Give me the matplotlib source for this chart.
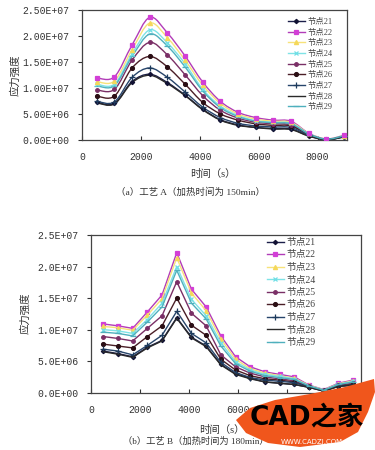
import numpy as np
import matplotlib
matplotlib.use("Agg")
import matplotlib.pyplot as plt
from matplotlib.path import Path
from matplotlib.patches import PathPatch, Polygon
from matplotlib.lines import Line2D
from matplotlib.ticker import FuncFormatter

# ---------------- data ----------------
labels = ["节点21", "节点22", "节点23", "节点24", "节点25", "节点26", "节点27", "节点28", "节点29"]

time_a = [500, 1100, 1700, 2300, 2900, 3500, 4100, 4700, 5300, 5900, 6500, 7100, 7700, 8300, 8900]
# values in 1e6 (Pa)
a21 = [7.2, 7.0, 11.2, 12.6, 11.0, 8.6, 5.9, 3.9, 2.9, 2.4, 2.2, 2.1, 0.8, 0.05, 0.6]
a22 = [11.9, 12.1, 18.2, 23.5, 20.5, 16.1, 11.1, 7.4, 5.3, 4.3, 3.8, 3.6, 1.3, 0.2, 0.9]
a23 = [11.2, 11.3, 17.3, 22.4, 19.6, 15.3, 10.5, 7.0, 5.0, 4.0, 3.6, 3.4, 1.25, 0.18, 0.85]
a24 = [10.7, 10.7, 16.5, 21.1, 18.6, 14.6, 9.7, 6.5, 4.7, 3.7, 3.4, 3.2, 1.2, 0.15, 0.8]
a25 = [9.6, 9.7, 15.3, 18.7, 16.3, 12.5, 8.5, 5.7, 4.2, 3.4, 3.1, 2.9, 1.1, 0.12, 0.75]
a26 = [8.4, 8.4, 13.8, 16.0, 14.0, 10.7, 7.2, 5.0, 3.8, 3.1, 2.8, 2.7, 1.0, 0.1, 0.7]
a27 = [7.4, 7.3, 12.0, 13.8, 12.0, 9.2, 6.3, 4.3, 3.2, 2.7, 2.5, 2.4, 0.9, 0.08, 0.65]
a28 = [7.1, 6.9, 11.0, 12.4, 10.8, 8.5, 5.8, 3.8, 2.8, 2.4, 2.1, 2.0, 0.75, 0.05, 0.6]
a29 = [10.4, 10.4, 16.0, 20.3, 18.0, 14.0, 9.4, 6.2, 4.5, 3.6, 3.3, 3.1, 1.15, 0.15, 0.8]

time_b = [500, 1100, 1700, 2300, 2900, 3500, 4100, 4700, 5300, 5900, 6500, 7100, 7700, 8300, 8900, 9500, 10100, 10700]
b21 = [6.6, 6.2, 5.7, 7.2, 8.3, 11.9, 8.8, 7.4, 4.5, 3.0, 2.3, 1.7, 1.5, 1.3, 0.85, 0.25, 1.0, 1.2]
b22 = [10.9, 10.6, 10.2, 12.8, 15.5, 22.2, 16.4, 13.6, 9.0, 5.7, 4.1, 3.3, 2.9, 2.5, 1.2, 0.5, 1.5, 2.0]
b23 = [10.5, 10.3, 9.9, 12.3, 14.9, 21.4, 15.8, 13.0, 8.5, 5.3, 3.8, 3.1, 2.7, 2.3, 1.15, 0.45, 1.4, 1.9]
b24 = [10.0, 9.8, 9.4, 11.6, 14.2, 20.0, 14.8, 12.2, 7.9, 4.9, 3.6, 2.9, 2.6, 2.2, 1.1, 0.4, 1.35, 1.8]
b25 = [8.9, 8.6, 8.2, 10.2, 12.2, 17.6, 12.6, 10.6, 6.0, 4.1, 3.1, 2.5, 2.2, 1.9, 1.0, 0.35, 1.2, 1.5]
b26 = [7.7, 7.4, 7.1, 8.9, 10.6, 15.0, 10.7, 9.1, 5.3, 3.6, 2.7, 2.2, 2.0, 1.7, 0.95, 0.3, 1.1, 1.3]
b27 = [6.9, 6.6, 6.0, 7.5, 9.1, 12.9, 9.4, 7.9, 4.8, 3.2, 2.4, 2.0, 1.8, 1.6, 0.9, 0.3, 1.1, 1.2]
b28 = [6.5, 6.1, 5.6, 7.1, 8.2, 11.8, 8.7, 7.3, 4.4, 2.9, 2.2, 1.7, 1.5, 1.3, 0.85, 0.25, 1.0, 1.2]
b29 = [9.6, 9.4, 9.0, 11.2, 13.6, 19.4, 14.2, 11.7, 7.4, 4.6, 3.4, 2.7, 2.4, 2.1, 1.05, 0.4, 1.3, 1.7]

xticks_a = [0, 2000, 4000, 6000, 8000]
xticklabels_a = ["0", "2000", "4000", "6000", "8000"]
xticks_b = [0, 2000, 4000, 6000, 8000, 10000]
xticklabels_b = ["0", "2000", "4000", "6000", "", ""]   # 8000 / 10000 hidden under the watermark

series_a = [a21, a22, a23, a24, a25, a26, a27, a28, a29]
series_b = [b21, b22, b23, b24, b25, b26, b27, b28, b29]
scale = 1e6

# ---------------- styles ----------------
colors = ["#1c1f4a", "#b23cb8", "#f7e27a", "#7fe3e6", "#7a2f66", "#4a1e26", "#27456b", "#2a2a2a", "#4fb0bd"]
mcolors = ["#111133", "#d23fd6", "#f5d85a", "#6fdfe6", "#7a2f66", "#2a0e14", "#1d3a5c", "#2a2a2a", "#4fb0bd"]
markers = ["D", "s", "^", "x", "o", "o", "+", "None", "_"]
msizes = [2.2, 3.2, 3.0, 3.0, 2.6, 2.8, 4.0, 0, 4.0]

SERIF = "Liberation Serif"
MONO = "Liberation Mono"
CJK = "Noto Sans CJK SC"
mixed = [SERIF, CJK]

fig = plt.figure(figsize=(3.75, 4.5), dpi=100)
fig.patch.set_facecolor("white")
W, H = 375.0, 450.0


def smooth_path(xs, ys):
    xs = np.asarray(xs, float)
    ys = np.asarray(ys, float)
    pts = np.column_stack([xs, ys])
    n = len(pts)
    verts = [pts[0]]
    codes = [Path.MOVETO]
    for i in range(n - 1):
        p0 = pts[i - 1] if i > 0 else pts[i]
        p1 = pts[i]
        p2 = pts[i + 1]
        p3 = pts[i + 2] if i + 2 < n else pts[i + 1]
        c1 = p1 + (p2 - p0) / 6.0
        c2 = p2 - (p3 - p1) / 6.0
        verts += [c1, c2, p2]
        codes += [Path.CURVE4] * 3
    return Path(verts, codes)


def style_axes(ax, xmax, xticks, xticklabels, yfmt):
    ax.set_xlim(0, xmax)
    ax.set_ylim(0, 2.5e7)
    ax.set_xticks(xticks)
    ax.set_xticklabels(xticklabels)
    ax.set_yticks(np.arange(0, 2.51e7, 0.5e7))
    ax.yaxis.set_major_formatter(FuncFormatter(yfmt))
    ax.tick_params(axis="x", direction="in", length=3, width=0.8, labelsize=7, pad=9, colors="#333333")
    ax.tick_params(axis="y", direction="out", length=3, width=0.8, labelsize=7, pad=6, colors="#333333")
    for lab in ax.get_xticklabels() + ax.get_yticklabels():
        lab.set_fontfamily(MONO)
    for sp in ax.spines.values():
        sp.set_color("#444444")
        sp.set_linewidth(0.9)


def fmt_a(v, p):
    if v <= 0:
        return "0.00E+00"
    if v >= 1e7:
        return "%.2fE+07" % (v / 1e7)
    return "%.2fE+06" % (v / 1e6)


def fmt_b(v, p):
    if v <= 0:
        return "0.0E+00"
    if v >= 1e7:
        return "%.1fE+07" % (v / 1e7)
    return "%.1fE+06" % (v / 1e6)


order = [7, 0, 6, 5, 4, 8, 3, 2, 1]

# ---------------- chart A (smoothed) ----------------
axA = fig.add_axes([82 / W, 1 - 140 / H, 265 / W, 130.5 / H])
for i in order:
    ys = np.asarray(series_a[i]) * scale
    axA.add_patch(PathPatch(smooth_path(time_a, ys), fill=False, edgecolor=colors[i], lw=1.0, zorder=2 + i * 0.01))
    if markers[i] != "None":
        axA.plot(time_a, ys, linestyle="none", marker=markers[i], ms=msizes[i],
                 color=mcolors[i], mec=mcolors[i], mew=0.9, zorder=3)
style_axes(axA, 9000, xticks_a, xticklabels_a, fmt_a)

handles = [Line2D([], [], color=colors[i], lw=1.0, marker=markers[i], ms=msizes[i],
                  mfc=mcolors[i], mec=mcolors[i], mew=0.9) for i in range(9)]
fig.legend(handles, labels, loc="upper left", bbox_to_anchor=(288 / W, 1 - 18 / H),
           frameon=False, borderpad=0, borderaxespad=0, handlelength=2.0, handletextpad=0.35,
           labelspacing=0.32, prop={"family": mixed, "size": 6}, labelcolor="#444444")

fig.text(15 / W, 1 - 75 / H, "应力强度", rotation=90, ha="center", va="center",
         fontsize=7.5, family=[CJK], color="#333333")
fig.text(213 / W, 1 - 174 / H, "时间（s）", ha="center", va="center", fontsize=7.5,
         family=mixed, color="#333333")
fig.text(191 / W, 1 - 192.5 / H, "（a）工艺 A（加热时间为 150min）", ha="center", va="center",
         fontsize=6.8, family=mixed, color="#333333")

# ---------------- chart B (straight) ----------------
axB = fig.add_axes([91 / W, 1 - 392.7 / H, 269.5 / W, 157.7 / H])
for i in order:
    ys = np.asarray(series_b[i]) * scale
    axB.plot(time_b, ys, color=colors[i], lw=1.0, marker=markers[i], ms=msizes[i],
             mfc=mcolors[i], mec=mcolors[i], mew=0.9, zorder=2 + i * 0.01)
style_axes(axB, 11000, xticks_b, xticklabels_b, fmt_b)

fig.legend(handles, labels, loc="upper left", bbox_to_anchor=(267 / W, 1 - 238 / H),
           frameon=False, borderpad=0, borderaxespad=0, handlelength=1.7, handletextpad=0.35,
           labelspacing=0.36, prop={"family": mixed, "size": 7}, labelcolor="#444444")

fig.text(25 / W, 1 - 313 / H, "应力强度", rotation=90, ha="center", va="center",
         fontsize=7.5, family=[CJK], color="#333333")
fig.text(222 / W, 1 - 430.5 / H, "时间（s）", ha="center", va="center", fontsize=7.5,
         family=mixed, color="#333333")
fig.text(196 / W, 1 - 441.5 / H, "（b）工艺 B（加热时间为 180min）", ha="center", va="center",
         fontsize=6.7, family=mixed, color="#333333")

# ---------------- watermark ----------------
brush_px = [(236, 420), (250, 408), (275, 400), (310, 394), (345, 387), (374, 379),
            (375, 392), (368, 412), (358, 432), (340, 442), (300, 447), (268, 443), (246, 433)]
brush = Polygon([(x / W, 1 - y / H) for x, y in brush_px], closed=True,
                transform=fig.transFigure, facecolor="#f0561c", edgecolor="none", zorder=5)
fig.patches.append(brush)
fig.text(307 / W, 1 - 417 / H, "CAD之家", ha="center", va="center", fontsize=19,
         fontweight="bold", family=["DejaVu Sans", CJK], color="black", zorder=6)
fig.text(312 / W, 1 - 442 / H, "WWW.CADZJ.COM", ha="center", va="center", fontsize=5,
         family=["DejaVu Sans"], color="white", zorder=6)

fig.savefig("out.png", dpi=100, facecolor="white")
